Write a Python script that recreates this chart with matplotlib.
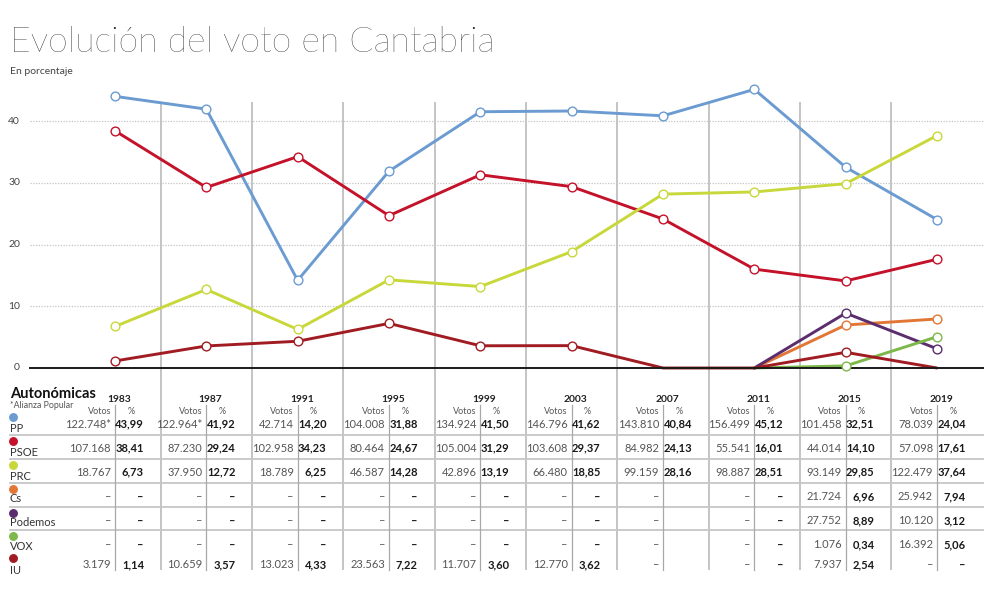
import matplotlib
matplotlib.use("Agg")
import matplotlib.pyplot as plt
import numpy as np

# ---------------- data ----------------
years = [1983, 1987, 1991, 1995, 1999, 2003, 2007, 2011, 2015, 2019]
parties = ["PP", "PSOE", "PRC", "Cs", "Podemos", "VOX", "IU"]
yticks = [0, 10, 20, 30, 40]

nan = np.nan
# chart series (percentage; 0 = line touches the baseline, nan = no line)
pct_pp = [43.99, 41.92, 14.20, 31.88, 41.50, 41.62, 40.84, 45.12, 32.51, 24.04]
pct_psoe = [38.41, 29.24, 34.23, 24.67, 31.29, 29.37, 24.13, 16.01, 14.10, 17.61]
pct_prc = [6.73, 12.72, 6.25, 14.28, 13.19, 18.85, 28.16, 28.51, 29.85, 37.64]
pct_cs = [nan, nan, nan, nan, nan, nan, nan, 0, 6.96, 7.94]
pct_podemos = [nan, nan, nan, nan, nan, nan, nan, 0, 8.89, 3.12]
pct_vox = [nan, nan, nan, nan, nan, nan, nan, 0, 0.34, 5.06]
pct_iu = [1.14, 3.57, 4.33, 7.22, 3.60, 3.62, 0, 0, 2.54, 0]

# table texts
votes_pp = ["122.748*", "122.964*", "42.714", "104.008", "134.924", "146.796", "143.810", "156.499", "101.458", "78.039"]
votes_psoe = ["107.168", "87.230", "102.958", "80.464", "105.004", "103.608", "84.982", "55.541", "44.014", "57.098"]
votes_prc = ["18.767", "37.950", "18.789", "46.587", "42.896", "66.480", "99.159", "98.887", "93.149", "122.479"]
votes_cs = ["–", "–", "–", "–", "–", "–", "–", "–", "21.724", "25.942"]
votes_podemos = ["–", "–", "–", "–", "–", "–", "–", "–", "27.752", "10.120"]
votes_vox = ["–", "–", "–", "–", "–", "–", "–", "–", "1.076", "16.392"]
votes_iu = ["3.179", "10.659", "13.023", "23.563", "11.707", "12.770", "–", "–", "7.937", "–"]

pcttxt_pp = ["43,99", "41,92", "14,20", "31,88", "41,50", "41,62", "40,84", "45,12", "32,51", "24,04"]
pcttxt_psoe = ["38,41", "29,24", "34,23", "24,67", "31,29", "29,37", "24,13", "16,01", "14,10", "17,61"]
pcttxt_prc = ["6,73", "12,72", "6,25", "14,28", "13,19", "18,85", "28,16", "28,51", "29,85", "37,64"]
pcttxt_cs = ["–", "–", "–", "–", "–", "–", "", "–", "6,96", "7,94"]
pcttxt_podemos = ["–", "–", "–", "–", "–", "–", "", "–", "8,89", "3,12"]
pcttxt_vox = ["–", "–", "–", "–", "–", "–", "", "–", "0,34", "5,06"]
pcttxt_iu = ["1,14", "3,57", "4,33", "7,22", "3,60", "3,62", "", "–", "2,54", "–"]

series = [pct_pp, pct_psoe, pct_prc, pct_cs, pct_podemos, pct_vox, pct_iu]
votes = [votes_pp, votes_psoe, votes_prc, votes_cs, votes_podemos, votes_vox, votes_iu]
pcttxt = [pcttxt_pp, pcttxt_psoe, pcttxt_prc, pcttxt_cs, pcttxt_podemos, pcttxt_vox, pcttxt_iu]
colors = ["#6b9bd1", "#c4122b", "#c8d83a", "#e27735", "#5b2d6e", "#7db84a", "#a01c22"]

# ---------------- layout ----------------
W, H = 984, 608
FONT = ["Lato", "DejaVu Sans"]
plt.rcParams["font.family"] = FONT

fig = plt.figure(figsize=(W / 100, H / 100), dpi=100)
ax = fig.add_axes([0, 0, 1, 1])
ax.axis("off")

X_PX_PER_YEAR = (937 - 115) / 36.0
X_1983_PX = 115
Y_PX_PER_UNIT = (368 - 121) / 40.0
Y0_PX = 368


def px2x(p):
    return years[0] + (p - X_1983_PX) / X_PX_PER_YEAR


def px2y(p):
    return (Y0_PX - p) / Y_PX_PER_UNIT


ax.set_xlim(px2x(0), px2x(W))
ax.set_ylim(px2y(H), px2y(0))

xl, xr = px2x(30), px2x(W)

# grid lines
for t in yticks[1:]:
    ax.plot([xl, xr], [t, t], color="#c4c4c4", lw=0.9, ls=(0, (1, 1.2)), zorder=1)
for t in yticks:
    ax.text(px2x(20), t, str(t), ha="right", va="center", fontsize=7.5, color="#444444")

# main vertical separators
mids = [(years[i] + years[i + 1]) / 2 for i in range(len(years) - 1)]
for m in mids:
    ax.plot([m, m], [px2y(570), px2y(102)], color="#c4c4c4", lw=1.4, zorder=1, solid_capstyle="butt")

# lines
for vals, col in zip(series, colors):
    ax.plot(years, vals, color=col, lw=2.1, zorder=3, solid_joinstyle="round", solid_capstyle="round")
# baseline
ax.plot([xl, xr], [0, 0], color="#1a1a1a", lw=1.4, zorder=3.5)
# markers (only where the party has a value)
for vals, col in zip(series, colors):
    xs = [y for y, v in zip(years, vals) if not np.isnan(v) and v > 0]
    vs = [v for v in vals if not np.isnan(v) and v > 0]
    ax.plot(xs, vs, ls="none", marker="o", ms=6.3, mfc="white", mec=col, mew=1.0, zorder=4)

# ---------------- table ----------------
row_px = [424, 448, 472, 497, 521, 545, 565]
name_px = [428, 452, 476, 499, 523, 546, 570]
dot_px = [417, 441, 465, 489, 513, 536, 558]
hline_px = [435, 459, 483, 507, 530]

for hp in hline_px:
    ax.plot([px2x(10), px2x(W)], [px2y(hp), px2y(hp)], color="#c6c6c6", lw=1.3, zorder=1)

for yr in years:
    ax.plot([yr, yr], [px2y(570), px2y(405)], color="#a8a8a8", lw=0.9, zorder=1)
    ax.text(yr + 4 / X_PX_PER_YEAR, px2y(400), str(yr), ha="center", va="center",
            fontsize=7.4, fontweight="bold", color="#222222")
    ax.text(yr - 4 / X_PX_PER_YEAR, px2y(412), "Votos", ha="right", va="center",
            fontsize=6.5, color="#555555")
    ax.text(yr + 16 / X_PX_PER_YEAR, px2y(412), "%", ha="center", va="center",
            fontsize=6.5, color="#555555")

for i, party in enumerate(parties):
    ax.plot([px2x(13)], [px2y(dot_px[i])], ls="none", marker="o", ms=5.4,
            mfc=colors[i], mec=colors[i])
    ax.text(px2x(10), px2y(name_px[i]), party, ha="left", va="center", fontsize=8, color="#333333")
    for j, yr in enumerate(years):
        ax.text(yr - 4 / X_PX_PER_YEAR, px2y(row_px[i]), votes[i][j], ha="right", va="center",
                fontsize=8, color="#555555")
        ax.text(yr + 29 / X_PX_PER_YEAR, px2y(row_px[i]), pcttxt[i][j], ha="right", va="center",
                fontsize=8, fontweight="bold", color="#1a1a1a")

ax.text(px2x(10), px2y(394), "Autonómicas", ha="left", va="center", fontsize=10.5,
        fontweight="bold", color="#111111")
ax.text(px2x(10), px2y(406), "*Alianza Popular", ha="left", va="center", fontsize=6.3,
        color="#555555")

# ---------------- titles ----------------
title = fig.text(10 / W, 1 - 52 / H, "Evolución del voto en Cantabria", ha="left", va="baseline",
                 fontsize=30, fontweight="light", color="#0d0d0d")
fig.canvas.draw()
bb = title.get_window_extent()
title.set_fontsize(30 * 485.0 / bb.width)
fig.text(10 / W, 1 - 71 / H, "En porcentaje", ha="left", va="center", fontsize=7.5, color="#444444")

fig.savefig("out.png", dpi=100, facecolor="white")
